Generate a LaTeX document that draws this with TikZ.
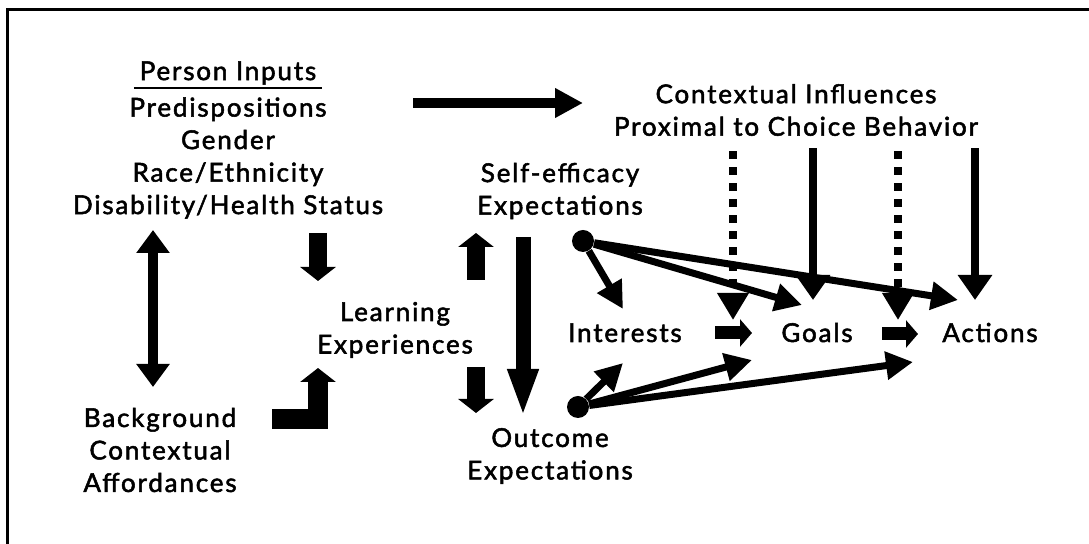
\documentclass[tikz,border=0pt]{standalone}
\usepackage{fontspec}
\setmainfont[LetterSpace=7,FakeBold=2]{Lato}
\usetikzlibrary{arrows.meta}
\newcommand{\ulhead}[1]{\setbox0\hbox{\kern3pt#1\kern3pt}\rlap{\rule[-4.5pt]{\wd0}{1pt}}\box0}

\begin{document}
\begin{tikzpicture}[x=0.5pt, y=-0.5pt, lab/.style={align=center,inner sep=0pt,font=\fontsize{13}{16.25}\selectfont}, dot/.style={circle,fill,inner sep=0pt,minimum size=11pt}, block/.style={line width=9pt,-{Triangle[length=7pt,width=17.5pt]}}, fat/.style={line width=5pt,-{Triangle[length=14pt,width=14pt]}}, both/.style={line width=5pt,{Triangle[length=11.5pt,width=16pt]}-{Triangle[length=11.5pt,width=16pt]}}, long/.style={line width=7.5pt,-{Triangle[length=24pt,width=14pt]}}, link/.style={line width=3.5pt,-{Triangle[length=13.5pt,width=13.5pt]}}, cue/.style={line width=4pt,-{Triangle[length=12.5pt,width=16.5pt]}}, cuedash/.style={line width=4pt,dash pattern=on 4pt off 4pt,-{Triangle[length=13.5pt,width=15pt]}}, small/.style={line width=6.5pt,-{Triangle[length=6pt,width=13.5pt]}}]
\useasboundingbox (0,0) rectangle (1089,544);
\draw[line width=1.5pt] (7.5,544) |- (1089,9.5);

% text blocks
\node[lab] (pin) at (228,140) {\ulhead{Person Inputs}\\[2pt]Predispositions\\Gender\\Race/Ethnicity\\Disability/Health Status};
\node[lab] (ctx) at (796,110) {Contextual Influences\\Proximal to Choice Behavior};
\node[lab] (se) at (560,191) {Self-efficacy\\Expectations};
\node[lab] (le) at (395,330) {Learning\\Experiences};
\node[lab] (oe) at (550,456) {Outcome\\Expectations};
\node[lab] (bca) at (160,450) {Background\\Contextual\\Affordances};
\node[lab,anchor=base] (int) at (625,342) {Interests};
\node[lab,anchor=base] (goals) at (817,342) {Goals};
\node[lab,anchor=base] (act) at (990,342) {Actions};
\node[dot] (sedot) at (583,241) {};
\node[dot] (oedot) at (578,407) {};

% arrow ends
\coordinate (pinout) at (413,103);
\coordinate (ctxin) at (583,103);
\coordinate (pinlow) at (153,230);
\coordinate (bcatop) at (153,387);
\coordinate (pindown) at (318,233);
\coordinate (lein) at (318,281);
\coordinate (leup) at (476,280);
\coordinate (sein) at (476,233);
\coordinate (ledown) at (476,367);
\coordinate (oein) at (476,413);
\coordinate (seout) at (523,237);
\coordinate (oetop) at (523,417);
\coordinate (bcaout) at (272,419);
\coordinate (lelow) at (318,368);
\coordinate (intout) at (715,333);
\coordinate (goalsin) at (752,333);
\coordinate (goalsout) at (882,334);
\coordinate (actin) at (918,334);
\coordinate (seint) at (623,309);
\coordinate (segoals) at (802,305);
\coordinate (seact) at (958,300);
\coordinate (oeint) at (623,363);
\coordinate (oegoals) at (752,360);
\coordinate (oeact) at (913,362);
\coordinate (cueint) at (733,320);
\coordinate (cuegoals) at (813,300);
\coordinate (cuegact) at (898,320);
\coordinate (cueact) at (975,300);

% block arrows
\draw[fat] (pinout) -- (ctxin);
\draw[both] (pinlow) -- (bcatop);
\draw[block] (pindown) -- (lein);
\draw[block] (leup) -- (sein);
\draw[block] (ledown) -- (oein);
\draw[long] (seout) -- (oetop);
\draw[block,line width=10pt,line join=miter] (bcaout) -| (lelow);
\draw[small] (intout) -- (goalsin);
\draw[small] (goalsout) -- (actin);

% context cues
\draw[cuedash,shorten <=7.5pt] (ctx.south -| cueint) -- (cueint);
\draw[cue,shorten <=6pt] (ctx.south -| cuegoals) -- (cuegoals);
\draw[cuedash,shorten <=7.5pt] (ctx.south -| cuegact) -- (cuegact);
\draw[cue,shorten <=6pt] (ctx.south -| cueact) -- (cueact);

% expectation links
\draw[link] (sedot) -- (seint);
\draw[link] (sedot) -- (segoals);
\draw[link] (sedot) -- (seact);
\draw[link] (oedot) -- (oeint);
\draw[link] (oedot) -- (oegoals);
\draw[link] (oedot) -- (oeact);
\end{tikzpicture}
\end{document}
